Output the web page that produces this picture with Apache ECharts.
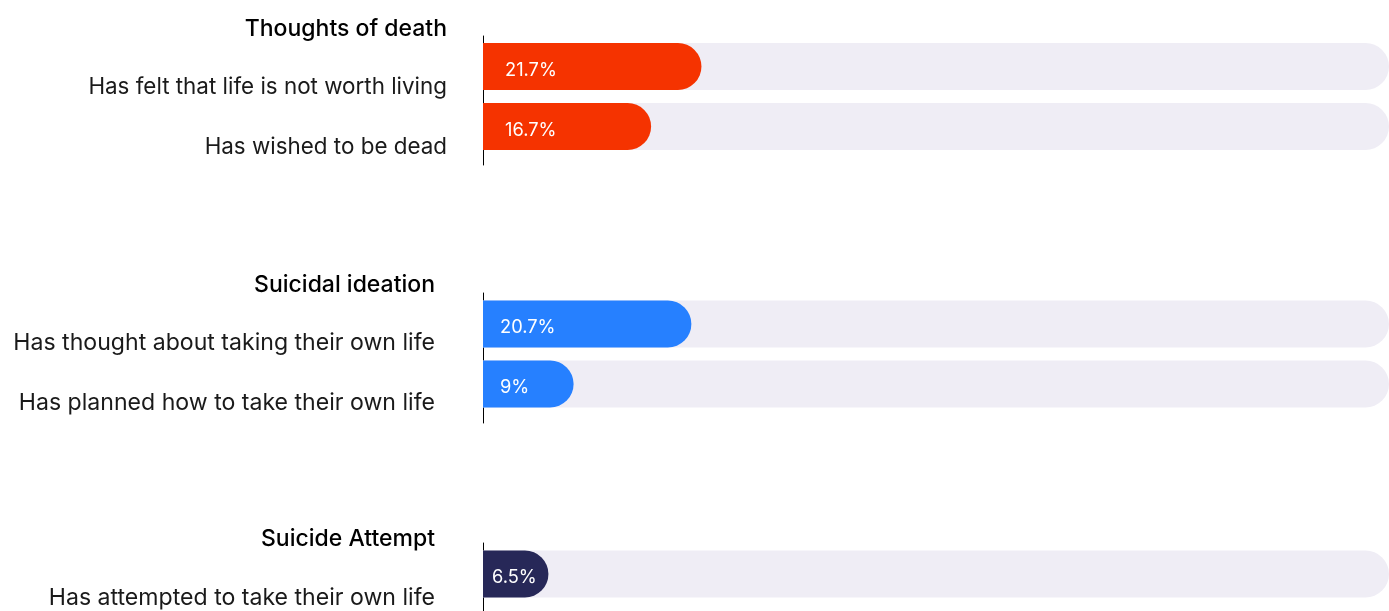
<!DOCTYPE html>
<html><head><meta charset="utf-8">
<script src="https://cdn.jsdelivr.net/npm/echarts@6/dist/echarts.min.js"></script>
<style>html,body{margin:0;padding:0;background:#fff}#c{width:1389px;height:611px}</style>
</head><body><div id="c"></div>
<script>
const groupTitles = ['Thoughts of death', 'Suicidal ideation', 'Suicide Attempt'];
const deathCategories = ['Has felt that life is not worth living', 'Has wished to be dead'];
const deathValues = [21.7, 16.7];
const ideationCategories = ['Has thought about taking their own life', 'Has planned how to take their own life'];
const ideationValues = [20.7, 9];
const attemptCategories = ['Has attempted to take their own life'];
const attemptValues = [6.5];
const axisMax = 90;

const FONT = 'Inter';
const groups = [
  { cats: deathCategories, vals: deathValues, color: '#F53300', top: 36.5, height: 120, lineTop: 36, lineHeight: 129, margin: 36, fs: 22.4, pad: 9, dist: 22, titleTop: 17.5, titleRight: 942 },
  { cats: ideationCategories, vals: ideationValues, color: '#2680FF', top: 294, height: 120, lineTop: 293, lineHeight: 130, margin: 48, fs: 23.1, pad: 8, dist: 17, titleTop: 273.5, titleRight: 954 },
  { cats: attemptCategories, vals: attemptValues, color: '#272858', top: 544, height: 60, lineTop: 543, lineHeight: 68, margin: 48, fs: 23.1, pad: 12.5, dist: 9, titleTop: 527.5, titleRight: 954 }
];

const grid = [], xAxis = [], yAxis = [], series = [], title = [];
groups.forEach((g, i) => {
  grid.push({ left: 483, right: 0, top: g.top, height: g.height, containLabel: false });
  xAxis.push({ type: 'value', gridIndex: i, min: 0, max: axisMax, show: false });
  yAxis.push({
    type: 'category', gridIndex: i, data: g.cats, inverse: true,
    axisLine: { show: false }, axisTick: { show: false }, splitLine: { show: false },
    axisLabel: { fontSize: g.fs, fontFamily: FONT, color: '#1a1a1a', margin: g.margin, verticalAlign: 'top', lineHeight: 23, padding: [g.pad, 0, 0, 0] }
  });
  series.push({
    type: 'bar', xAxisIndex: i, yAxisIndex: i, data: g.vals, barWidth: 47,
    itemStyle: { color: g.color, borderRadius: [0, 24, 24, 0] },
    showBackground: true,
    backgroundStyle: { color: '#EFEDF5', borderRadius: [0, 24, 24, 0] },
    label: { show: true, position: 'insideLeft', distance: g.dist, offset: [0, 4], color: '#fff', fontSize: 18.3, fontFamily: FONT, formatter: p => p.value + '%' },
    silent: true
  });
  title.push({ text: groupTitles[i], right: g.titleRight, top: g.titleTop, padding: 0,
    textStyle: { fontSize: 23, fontWeight: 500, color: '#000', fontFamily: FONT, lineHeight: 23 } });
});
// axis-line-only grids
groups.forEach((g, i) => {
  const gi = grid.length;
  grid.push({ left: 483, right: 0, top: g.lineTop, height: g.lineHeight });
  xAxis.push({ type: 'value', gridIndex: gi, min: 0, max: axisMax, show: false });
  yAxis.push({ type: 'value', gridIndex: gi, min: 0, max: 1,
    axisLine: { show: true, onZero: false, lineStyle: { color: '#000', width: 1 } },
    axisTick: { show: false }, axisLabel: { show: false }, splitLine: { show: false } });
});

const chart = echarts.init(document.getElementById('c'), null, { renderer: 'canvas' });
chart.setOption({ animation: false, title, grid, xAxis, yAxis, series });
</script>
</body></html>
